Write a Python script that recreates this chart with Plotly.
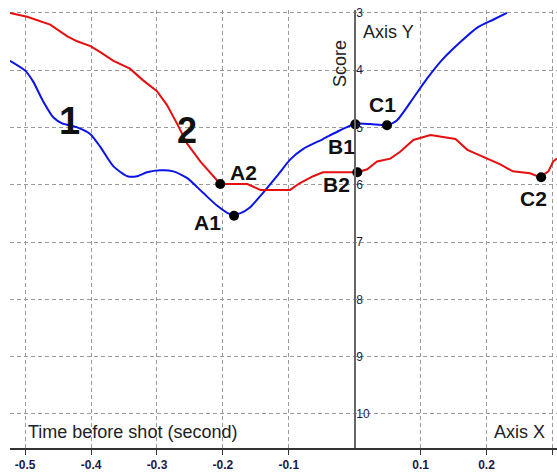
import plotly.graph_objects as go

# ---- data ----
blue_x = [-0.523, -0.500, -0.488, -0.473, -0.457, -0.444, -0.421, -0.401, -0.386, -0.366,
          -0.345, -0.330, -0.315, -0.295, -0.275, -0.254, -0.230, -0.209, -0.189, -0.174,
          -0.159, -0.139, -0.118, -0.098, -0.078, -0.048, -0.022, 0.001, 0.024, 0.049,
          0.064, 0.089, 0.110, 0.134, 0.160, 0.186, 0.210, 0.231]
blue_y = [3.836, 4.007, 4.195, 4.536, 4.826, 4.928, 4.997, 5.116, 5.338, 5.679,
          5.850, 5.850, 5.782, 5.747, 5.765, 5.884, 6.140, 6.362, 6.515, 6.498,
          6.396, 6.140, 5.850, 5.560, 5.372, 5.201, 5.048, 4.935, 4.940, 4.962,
          4.877, 4.485, 4.143, 3.802, 3.512, 3.256, 3.119, 3.000]

red_x = [-0.523, -0.497, -0.462, -0.436, -0.421, -0.401, -0.386, -0.366, -0.341, -0.321,
         -0.300, -0.285, -0.269, -0.254, -0.234, -0.219, -0.204, -0.184, -0.163, -0.143,
         -0.098, -0.083, -0.063, -0.048, 0.004, 0.019, 0.034, 0.054, 0.069, 0.089,
         0.115, 0.134, 0.153, 0.171, 0.195, 0.221, 0.240, 0.266, 0.281, 0.294,
         0.301, 0.307]
red_y = [3.000, 3.068, 3.205, 3.410, 3.495, 3.580, 3.683, 3.836, 3.973, 4.177,
         4.365, 4.604, 4.945, 5.287, 5.594, 5.799, 5.986, 5.986, 5.986, 6.089,
         6.089, 5.969, 5.850, 5.782, 5.782, 5.730, 5.594, 5.543, 5.423, 5.218,
         5.133, 5.167, 5.201, 5.389, 5.509, 5.645, 5.765, 5.799, 5.867, 5.765,
         5.594, 5.540]

point_names = ["A1", "A2", "B1", "B2", "C1", "C2"]
point_x = [-0.183, -0.204, 0.001, 0.004, 0.049, 0.283]
point_y = [6.54, 5.986, 4.945, 5.78, 4.962, 5.867]

x_ticks = [-0.5, -0.4, -0.3, -0.2, -0.1, 0.1, 0.2, 0.3]
x_labels = ["-0.5", "-0.4", "-0.3", "-0.2", "-0.1", "0.1", "0.2", "0.3"]
y_ticks = [3, 4, 5, 6, 7, 8, 9, 10]
y_labels = ["3", "4", "5", "6", "7", "8", "9", "10"]

x_range = [-0.523, 0.307]
y_range = [10.594, 2.949]

FONT = "Arial, Liberation Sans, sans-serif"

fig = go.Figure()
fig.add_trace(go.Scatter(x=blue_x, y=blue_y, mode="lines",
                         line=dict(color="#0a14e6", width=2, shape="spline", smoothing=0.6),
                         hoverinfo="skip", showlegend=False))
fig.add_trace(go.Scatter(x=red_x, y=red_y, mode="lines",
                         line=dict(color="#e60f0f", width=2),
                         hoverinfo="skip", showlegend=False))
fig.add_trace(go.Scatter(x=point_x, y=point_y, mode="markers",
                         marker=dict(color="black", size=10),
                         hoverinfo="skip", showlegend=False))

# label positions (text placement)
lab = [
    ("1", -0.432, 4.894, 38), ("2", -0.254, 5.048, 36),
    ("A2", -0.168, 5.782, 21), ("A1", -0.224, 6.652, 21),
    ("B1", -0.020, 5.338, 21), ("B2", -0.027, 5.986, 21),
    ("C1", 0.042, 4.604, 21), ("C2", 0.272, 6.242, 21),
]
for t, x, y, s in lab:
    fig.add_annotation(x=x, y=y, text="<b>%s</b>" % t, showarrow=False,
                       font=dict(family=FONT, size=s, color="#111111"),
                       xanchor="center", yanchor="middle")

fig.add_annotation(x=0.051, y=3.341, text="Axis Y", showarrow=False,
                   font=dict(family=FONT, size=18, color="#222222"),
                   xanchor="center", yanchor="middle")
fig.add_annotation(x=-0.022, y=3.887, text="Score", showarrow=False, textangle=-90,
                   font=dict(family=FONT, size=18, color="#222222"),
                   xanchor="center", yanchor="middle")
fig.add_annotation(x=-0.499, y=10.32, text="Time before shot (second)", showarrow=False,
                   font=dict(family=FONT, size=18, color="#222222"),
                   xanchor="left", yanchor="middle")
fig.add_annotation(x=0.209, y=10.32, text="Axis X", showarrow=False,
                   font=dict(family=FONT, size=18, color="#222222"),
                   xanchor="left", yanchor="middle")

ypos = (0 - x_range[0]) / (x_range[1] - x_range[0])

fig.update_layout(
    width=557, height=472,
    margin=dict(l=10, r=0, t=10, b=14),
    paper_bgcolor="white", plot_bgcolor="white",
    xaxis=dict(range=x_range, tickvals=x_ticks, ticktext=x_labels,
               showgrid=True, gridcolor="#9a9a9a", gridwidth=1, griddash="4px,3px",
               zeroline=False, showline=True, linecolor="#333333", linewidth=1.5,
               ticks="outside", ticklen=5, tickcolor="#333333",
               tickfont=dict(family=FONT, size=12, color="#1a1a4a", weight="bold"),
               fixedrange=True),
    yaxis=dict(range=y_range, tickvals=y_ticks, ticktext=y_labels,
               anchor="free", position=ypos, side="left",
               ticklabelposition="inside", ticklabeloverflow="allow",
               showgrid=True, gridcolor="#9a9a9a", gridwidth=1, griddash="4px,3px",
               zeroline=False, showline=True, linecolor="#666666", linewidth=2,
               ticks="", tickfont=dict(family=FONT, size=12, color="#1a1a4a"),
               fixedrange=True),
)

fig.write_html("out.html", config={"displayModeBar": False},
               post_script="document.body.style.margin='0';document.body.style.overflow='hidden';")
